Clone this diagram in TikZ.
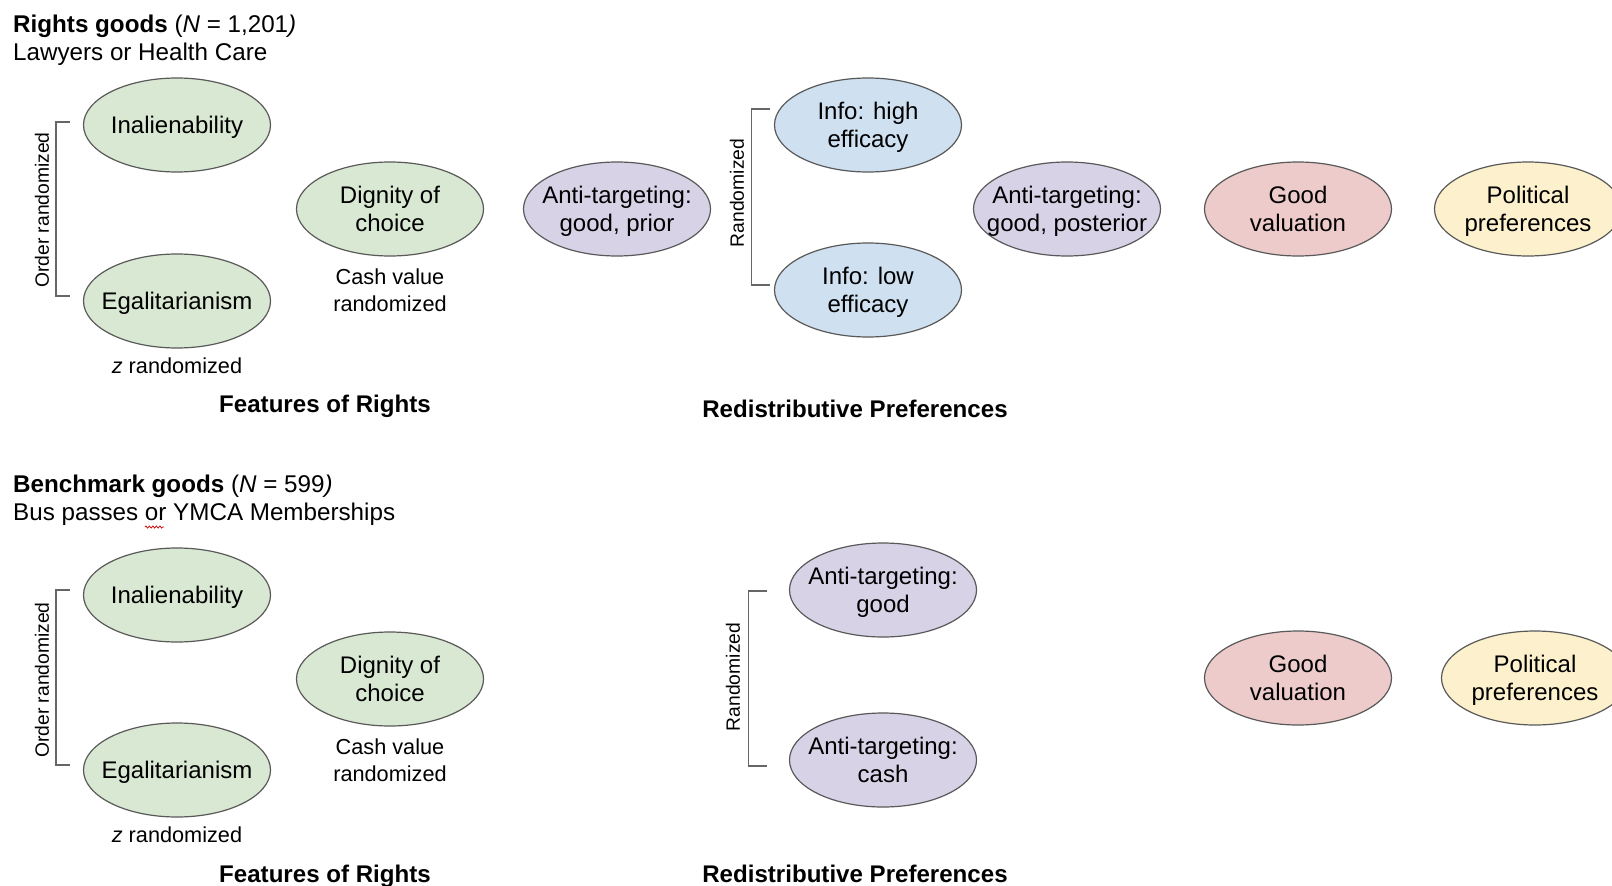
\documentclass[tikz,border=0pt]{standalone}
\usepackage{fontspec}
\setmainfont{Liberation Sans}
\usetikzlibrary{shapes.geometric,calc,decorations.pathmorphing}
\definecolor{gfill}{HTML}{D9E8D2}
\definecolor{bfill}{HTML}{CFE0F1}
\definecolor{pfill}{HTML}{D8D2E7}
\definecolor{rfill}{HTML}{EECBCB}
\definecolor{yfill}{HTML}{FCF1CC}
\definecolor{edge}{HTML}{595959}
\definecolor{brkc}{HTML}{666666}
\newcommand{\bubnode}[4]{\node[bub=#2] (#1) at (#3) {}; \node[etxt] (#1-t) at (#1.center) {#4};}
\begin{document}
\begin{tikzpicture}[x=1pt,y=-1pt,
  bub/.style={ellipse, draw=edge, line width=1.2pt, minimum width=187pt, minimum height=94pt, inner sep=0pt, fill=#1},
  etxt/.style={align=center, font=\fontsize{24}{28.5}\selectfont, inner sep=0pt, text depth=0pt},
  hdr/.style={anchor=base west, font=\fontsize{24.2}{28}\selectfont, inner sep=0pt},
  small/.style={align=center, font=\fontsize{21.7}{26.5}\selectfont, inner sep=0pt},
  sect/.style={anchor=base, font=\fontsize{24.1}{28}\selectfont\bfseries, inner sep=0pt},
  rot/.style={rotate=90, font=\fontsize{19.3}{23}\selectfont, inner sep=0pt},
  brk/.style={draw=brkc, line width=1.3pt}]
\useasboundingbox (0,0) rectangle (1612,886);
\fill[white] (0,0) rectangle (1612,886);
\clip (0,0) rectangle (1612,886);

% ---------- Top panel ----------
\node[hdr] (h1) at (13,32) {\textbf{Rights goods} (\textit{N} = 1,201\textit{)}};
\node[hdr] (h1b) at (13,60) {Lawyers or Health Care};

\bubnode{inal1}{gfill}{177,125}{Inalienability}
\bubnode{egal1}{gfill}{177,301}{Egalitarianism}
\bubnode{dig1}{gfill}{390,209}{Dignity of\\choice}
\bubnode{atp}{pfill}{617,209}{Anti-targeting:\\good, prior}
\bubnode{infh}{bfill}{868,125}{Info: high\\efficacy}
\bubnode{infl}{bfill}{868,290}{Info: low\\efficacy}
\bubnode{atpost}{pfill}{1067,209}{Anti-targeting:\\good, posterior}
\bubnode{gv1}{rfill}{1298,209}{Good\\valuation}
\bubnode{pp1}{yfill}{1528,209}{Political\\preferences}

\node[small] (cv1) at (390,290) {Cash value\\randomized};
\node[small, anchor=base] (z1) at (177,373) {\textit{z} randomized};
\node[sect] (f1) at (325,412) {Features of Rights};
\node[sect] (r1) at (855,417) {Redistributive Preferences};

\node[rot] (or1) at (42,210) {Order randomized};
\draw[brk] ($(inal1.west)+(-13,-3)$) -- ($(inal1.west)+(-27,-3)$) |- ($(egal1.west)+(-13,-5)$);
\node[rot] (rz1) at (737,193) {Randomized};
\draw[brk] ($(infh.west)+(-3.5,-16)$) -- ($(infh.west)+(-22.5,-16)$) |- ($(infl.west)+(-3.5,-5)$);

% ---------- Bottom panel ----------
\node[hdr] (h2) at (13,492) {\textbf{Benchmark goods} (\textit{N} = 599\textit{)}};
\node[hdr] (h2b) at (13,520) {Bus passes or YMCA Memberships};
\draw[red!80!black, line width=0.7pt, decorate, decoration={zigzag, amplitude=1.1pt, segment length=3.5pt}] (145,527) -- (164,527);

\bubnode{inal2}{gfill}{177,595}{Inalienability}
\bubnode{egal2}{gfill}{177,770}{Egalitarianism}
\bubnode{dig2}{gfill}{390,679}{Dignity of\\choice}
\bubnode{atg}{pfill}{883,590}{Anti-targeting:\\good}
\bubnode{atc}{pfill}{883,760}{Anti-targeting:\\cash}
\bubnode{gv2}{rfill}{1298,678}{Good\\valuation}
\bubnode{pp2}{yfill}{1535,678}{Political\\preferences}

\node[small] (cv2) at (390,760) {Cash value\\randomized};
\node[small, anchor=base] (z2) at (177,842) {\textit{z} randomized};
\node[sect] (f2) at (325,882) {Features of Rights};
\node[sect] (r2) at (855,882) {Redistributive Preferences};

\node[rot] (or2) at (42,680) {Order randomized};
\draw[brk] ($(inal2.west)+(-13,-5)$) -- ($(inal2.west)+(-27,-5)$) |- ($(egal2.west)+(-13,-5)$);
\node[rot] (rz2) at (733,677) {Randomized};
\draw[brk] ($(atg.west)+(-21.5,1)$) -- ($(atg.west)+(-40.5,1)$) |- ($(atc.west)+(-21.5,6)$);
\end{tikzpicture}
\end{document}
